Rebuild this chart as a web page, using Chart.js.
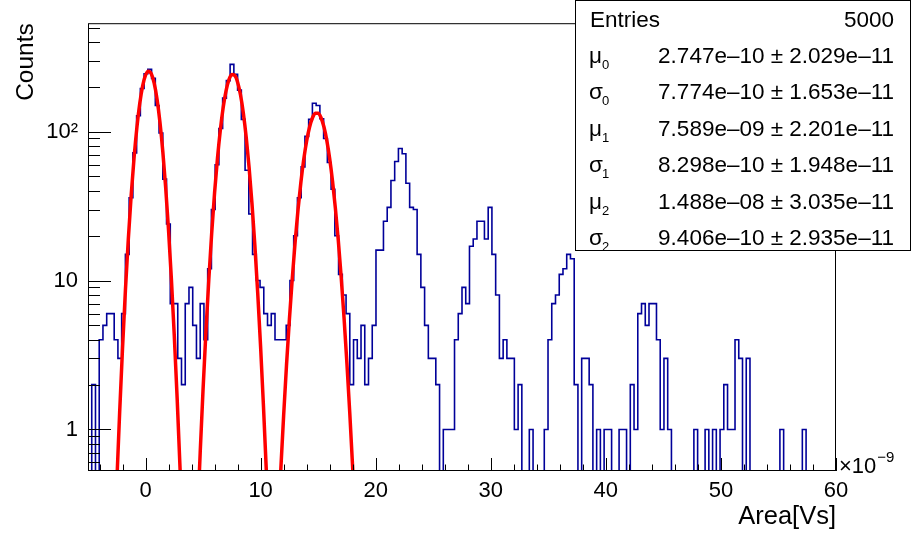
<!DOCTYPE html>
<html>
<head>
<meta charset="utf-8">
<script src="https://cdn.jsdelivr.net/npm/chart.js@4"></script>
<style>
  html, body { margin: 0; padding: 0; background: #fff; }
  canvas { display: block; }
</style>
</head>
<body>
<canvas id="grafica" width="913" height="535"></canvas>
<script>
// histograma: 200 bins entre -5 y 60 (x 1e-9 Vs)
const binInicio = -5
const binAncho = 0.325
const cuentas = [
  0, 2, 0, 4, 5, 6, 6, 4, 3, 6, 15, 36, 72, 128, 195, 245, 262, 228, 150, 98,
  48, 24, 7, 7, 3, 2, 7, 9, 5, 3, 7, 4, 12, 30, 60, 105, 168, 220, 283, 243,
  190, 121, 55, 28, 15, 10, 9, 6, 5, 6, 4, 4, 4, 5, 10, 20, 36, 58, 93, 121,
  155, 150, 122, 90, 62, 41, 20, 11, 8, 6, 2, 4, 3, 5, 2, 3, 5, 16, 16, 25,
  31, 47, 63, 77, 71, 45, 31, 30, 15, 9, 5, 3, 3, 2, 0, 1, 1, 1, 4, 6,
  9, 7, 17, 19, 25, 25, 19, 31, 15, 8, 3, 4, 3, 3, 1, 2, 0, 0, 1, 0,
  0, 0, 1, 4, 7, 8, 11, 12, 15, 14, 2, 0, 3, 3, 2, 0, 1, 0, 1, 1,
  0, 0, 1, 1, 0, 2, 1, 6, 7, 5, 7, 7, 4, 1, 3, 1, 0, 0, 0, 0,
  0, 0, 1, 0, 0, 1, 0, 1, 0, 1, 2, 1, 1, 4, 3, 0, 3, 0, 0, 0,
  0, 0, 0, 0, 0, 1, 0, 0, 0, 0, 0, 1, 0, 0, 0, 0, 0, 0, 0, 0
]

// curvas de ajuste (rojo)
const ajuste0X = [-2.5, -2.25, -2, -1.75, -1.5, -1.25, -1, -0.75, -0.5, -0.25, 0, 0.25, 0.5, 0.75, 1, 1.25, 1.5, 1.75, 2, 2.25, 2.5, 2.75, 3, 3.25]
const ajuste0Y = [0.434, 1.30, 3.51, 8.55, 18.8, 37.2, 66.3, 106.8, 155.1, 203, 239.5, 254.9, 244.5, 211.5, 165, 116, 73.6, 42.1, 21.7, 10.1, 4.23, 1.60, 0.544, 0.167]
const ajuste1X = [4.5, 4.75, 5, 5.25, 5.5, 5.75, 6, 6.25, 6.5, 6.75, 7, 7.25, 7.5, 7.75, 8, 8.25, 8.5, 8.75, 9, 9.25, 9.5, 9.75, 10, 10.25, 10.5, 10.75]
const ajuste1Y = [0.239, 0.70, 1.875, 4.58, 10.2, 20.9, 38.9, 66.1, 102.7, 145.8, 188.9, 223.6, 241.6, 238.5, 215, 177, 133, 91.4, 57.3, 32.8, 17.2, 8.19, 3.57, 1.42, 0.519, 0.172]
const ajuste2X = [11.5, 11.75, 12, 12.25, 12.5, 12.75, 13, 13.25, 13.5, 13.75, 14, 14.25, 14.5, 14.75, 15, 15.25, 15.5, 15.75, 16, 16.25, 16.5, 16.75, 17, 17.25, 17.5, 17.75, 18, 18.25]
const ajuste2Y = [0.21, 0.531, 1.24, 2.70, 5.47, 10.3, 18.2, 29.9, 45.7, 65.2, 86.5, 107.1, 123.5, 132.7, 132.9, 124, 107.9, 87.4, 66, 46.4, 30.4, 18.6, 10.6, 5.62, 2.78, 1.28, 0.55, 0.22]

const ticksX = [0, 10, 20, 30, 40, 50, 60]
const ticksY = [1, 10, 100]
const etiquetasY = ['1', '10', '10²']

const statsSimbolos = ['μ', 'σ', 'μ', 'σ', 'μ', 'σ']
const statsIndices = ['0', '0', '1', '1', '2', '2']
const statsValores = [
  '2.747e–10 ± 2.029e–11',
  '7.774e–10 ± 1.653e–11',
  '7.589e–09 ± 2.201e–11',
  '8.298e–10 ± 1.948e–11',
  '1.488e–08 ± 3.035e–11',
  '9.406e–10 ± 2.935e–11'
]
const entradas = 5000

const fuente = '"Liberation Sans", Arial, sans-serif'

// en escala log el 0 no existe: los bins vacios bajan al borde inferior
const yMin = 0.526
const puntosHisto = cuentas.map((c, i) => ({ x: binInicio + i * binAncho, y: c > 0 ? c : yMin / 5 }))
puntosHisto.push({ x: binInicio + cuentas.length * binAncho, y: puntosHisto[puntosHisto.length - 1].y })

const aPuntos = (xs, ys) => xs.map((x, i) => ({ x: x, y: ys[i] }))

// marco, ticks hacia adentro, titulos y caja de estadisticas
const extras = {
  id: 'extras',
  afterDatasetsDraw(chart) {
    const { ctx, chartArea: a } = chart
    const sx = chart.scales.x
    const sy = chart.scales.y
    ctx.save()
    ctx.strokeStyle = '#000'
    ctx.lineWidth = 1
    ctx.strokeRect(a.left + 0.5, a.top + 0.5, a.right - a.left - 1, a.bottom - a.top - 1)

    ctx.beginPath()
    for (let v = -4; v <= 60; v += 2) {
      const px = Math.round(sx.getPixelForValue(v)) + 0.5
      const largo = v % 10 === 0 ? 13 : 6.5
      ctx.moveTo(px, a.bottom)
      ctx.lineTo(px, a.bottom - largo)
    }
    const decadas = [0.1, 1, 10, 100]
    decadas.forEach(d => {
      for (let m = 1; m <= 9; m++) {
        const v = d * m
        if (v < sy.min || v > sy.max) continue
        const py = Math.round(sy.getPixelForValue(v)) + 0.5
        const largo = m === 1 ? 23 : 12
        ctx.moveTo(a.left, py)
        ctx.lineTo(a.left + largo, py)
      }
    })
    ctx.stroke()

    ctx.fillStyle = '#000'
    // titulo eje y
    ctx.save()
    ctx.font = '24.5px ' + fuente
    ctx.translate(33, a.top)
    ctx.rotate(-Math.PI / 2)
    ctx.textAlign = 'right'
    ctx.textBaseline = 'alphabetic'
    ctx.fillText('Counts', 0, 0)
    ctx.restore()

    // titulo eje x
    ctx.font = '25.5px ' + fuente
    ctx.textAlign = 'right'
    ctx.textBaseline = 'alphabetic'
    ctx.fillText('Area[Vs]', a.right, 524)

    // exponente
    ctx.textAlign = 'left'
    ctx.font = '22px ' + fuente
    ctx.fillText('×10', 839, 473)
    const w = ctx.measureText('×10').width
    ctx.font = '15px ' + fuente
    ctx.fillText('−9', 839 + w + 1, 462)

    // caja de estadisticas
    ctx.fillStyle = '#fff'
    ctx.fillRect(575, 0, 336, 251)
    ctx.strokeRect(575.5, 0.5, 335, 250)
    ctx.fillStyle = '#000'
    ctx.font = '22.5px ' + fuente
    ctx.textAlign = 'left'
    ctx.fillText('Entries', 590, 27)
    ctx.textAlign = 'right'
    ctx.fillText(String(entradas), 894, 27)
    statsValores.forEach((txt, i) => {
      const base = 63 + i * 36.4
      ctx.textAlign = 'left'
      ctx.font = '22.5px ' + fuente
      ctx.fillText(statsSimbolos[i], 589, base)
      ctx.font = '13px ' + fuente
      ctx.fillText(statsIndices[i], 602, base + 6)
      ctx.textAlign = 'right'
      ctx.font = '22.5px ' + fuente
      ctx.fillText(txt, 894, base)
    })
    ctx.restore()
  }
}

const canvas = document.getElementById('grafica')
new Chart(canvas, {
  type: 'line',
  data: {
    datasets: [
      {
        label: 'histo',
        data: puntosHisto,
        stepped: true,
        borderColor: '#000099',
        borderWidth: 1.6,
        pointRadius: 0,
        fill: false,
        clip: 0,
        order: 2
      },
      {
        label: 'ajuste0',
        data: aPuntos(ajuste0X, ajuste0Y),
        borderColor: '#ff0000',
        borderWidth: 3.5,
        pointRadius: 0,
        cubicInterpolationMode: 'monotone',
        fill: false,
        clip: 0,
        order: 1
      },
      {
        label: 'ajuste1',
        data: aPuntos(ajuste1X, ajuste1Y),
        borderColor: '#ff0000',
        borderWidth: 3.5,
        pointRadius: 0,
        cubicInterpolationMode: 'monotone',
        fill: false,
        clip: 0,
        order: 1
      },
      {
        label: 'ajuste2',
        data: aPuntos(ajuste2X, ajuste2Y),
        borderColor: '#ff0000',
        borderWidth: 3.5,
        pointRadius: 0,
        cubicInterpolationMode: 'monotone',
        fill: false,
        clip: 0,
        order: 1
      }
    ]
  },
  options: {
    responsive: false,
    devicePixelRatio: 1,
    animation: false,
    events: [],
    layout: { padding: { top: 22, right: 77, left: 0, bottom: 0 } },
    plugins: { legend: { display: false }, tooltip: { enabled: false } },
    scales: {
      x: {
        type: 'linear',
        min: -5,
        max: 60,
        grid: { display: false, drawTicks: false },
        border: { display: false },
        afterFit: s => { s.height = 64 },
        afterBuildTicks: s => { s.ticks = ticksX.map(v => ({ value: v })) },
        ticks: {
          autoSkip: false,
          maxRotation: 0,
          padding: 7,
          color: '#000',
          font: { family: fuente, size: 22 },
          callback: v => String(v)
        }
      },
      y: {
        type: 'logarithmic',
        min: yMin,
        max: 535,
        grid: { display: false, drawTicks: false },
        border: { display: false },
        afterFit: s => { s.width = 88 },
        afterBuildTicks: s => { s.ticks = ticksY.map(v => ({ value: v })) },
        ticks: {
          autoSkip: false,
          padding: 10,
          color: '#000',
          font: { family: fuente, size: 22 },
          callback: (v, i) => etiquetasY[i]
        }
      }
    }
  },
  plugins: [extras]
})
</script>
</body>
</html>
